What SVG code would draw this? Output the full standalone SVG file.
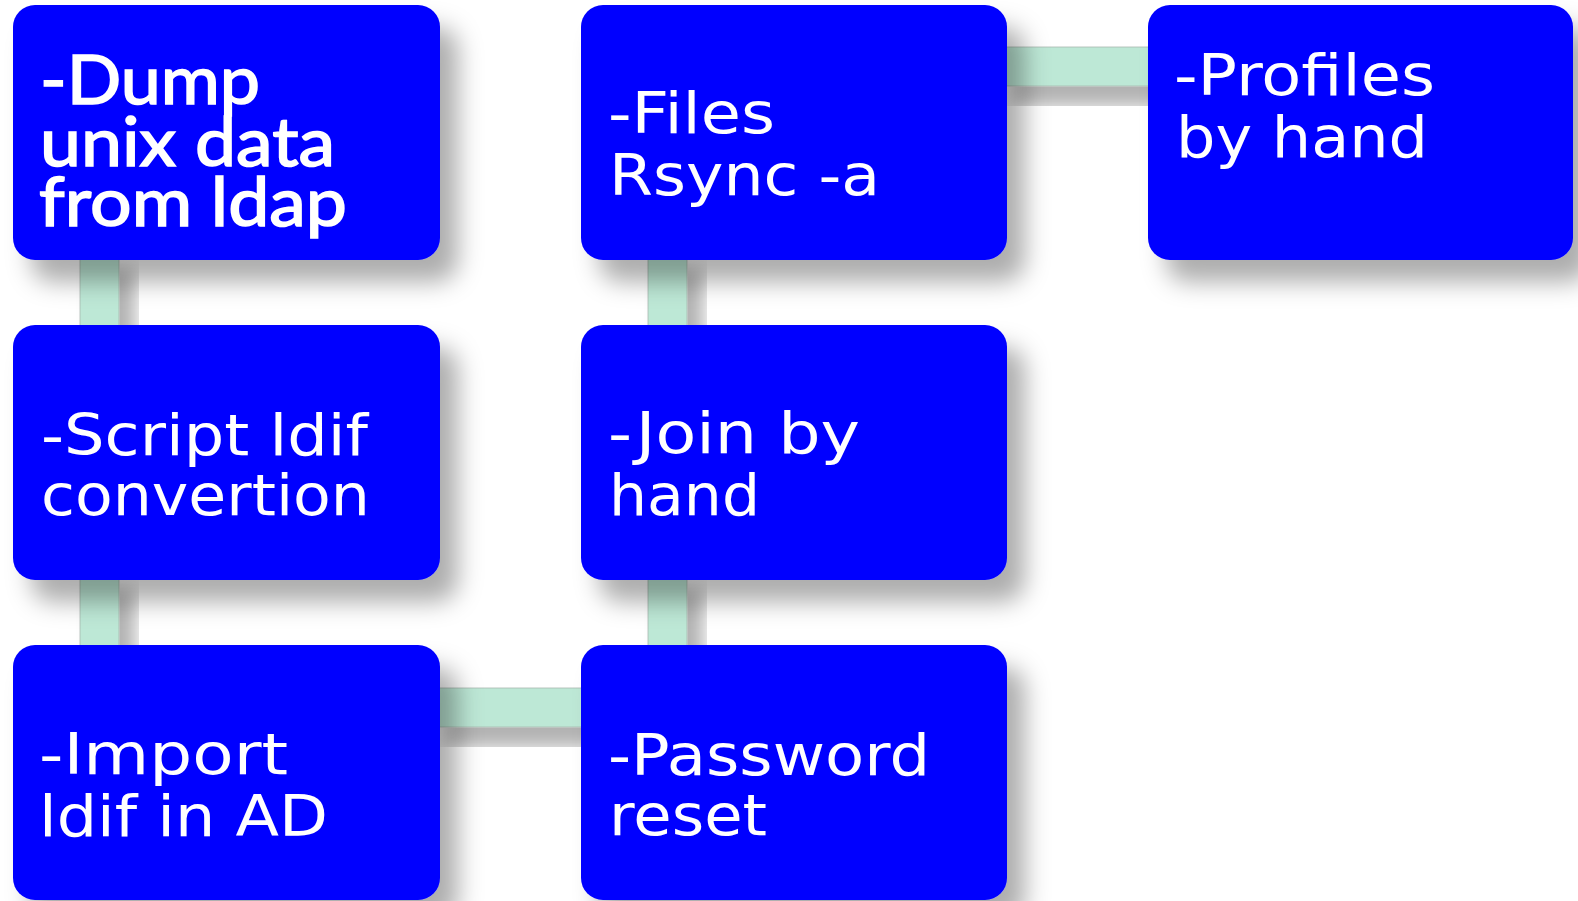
<svg xmlns="http://www.w3.org/2000/svg" width="1578" height="901" viewBox="0 0 1578 901">
<style>
.box{fill:#0000ff;filter:url(#sh)}
.con{fill:#bde8d6;stroke:#a8b8b0;stroke-width:0.8;filter:url(#shc)}
.t{font-family:"DejaVu Sans",Verdana,sans-serif;font-size:57px;fill:#ffffff}
.d{font-family:Lato,"Open Sans",sans-serif;font-weight:normal;font-size:68px;fill:#ffffff;stroke:#ffffff;stroke-width:1.6}
</style>
<defs>
<filter id="sh" x="-20%" y="-20%" width="150%" height="150%">
<feDropShadow dx="18" dy="22" stdDeviation="12" flood-color="#000" flood-opacity="0.32"/>
</filter>
<filter id="shc" x="-50%" y="-50%" width="200%" height="200%">
<feDropShadow dx="16" dy="20" stdDeviation="9" flood-color="#000" flood-opacity="0.3"/>
</filter>
</defs>
<rect width="1578" height="901" fill="#ffffff"/>
<g id="connectors">
<rect class="con" x="80" y="250" width="39" height="85"/>
<rect class="con" x="80" y="570" width="39" height="85"/>
<rect class="con" x="648" y="250" width="39" height="85"/>
<rect class="con" x="648" y="570" width="39" height="85"/>
<rect class="con" x="430" y="688" width="161" height="39"/>
<rect class="con" x="997" y="47" width="161" height="39"/>
</g>
<g id="n1">
<rect class="box" x="13" y="5" width="427" height="255" rx="22"/>
<text class="d" x="40" y="104" textLength="220" lengthAdjust="spacingAndGlyphs">-Dump</text>
<text class="d" x="40" y="166" textLength="295" lengthAdjust="spacingAndGlyphs">unix data</text>
<text class="d" x="39" y="226" textLength="308" lengthAdjust="spacingAndGlyphs">from ldap</text>
</g>
<g id="n2">
<rect class="box" x="13" y="325" width="427" height="255" rx="22"/>
<text class="t" x="41" y="455" textLength="327" lengthAdjust="spacingAndGlyphs">-Script ldif</text>
<text class="t" x="41" y="515" textLength="329" lengthAdjust="spacingAndGlyphs">convertion</text>
</g>
<g id="n3">
<rect class="box" x="13" y="645" width="427" height="255" rx="22"/>
<text class="t" x="39" y="774" textLength="249" lengthAdjust="spacingAndGlyphs">-Import</text>
<text class="t" x="39" y="836" textLength="289" lengthAdjust="spacingAndGlyphs">ldif in AD</text>
</g>
<g id="n4">
<rect class="box" x="581" y="645" width="426" height="255" rx="22"/>
<text class="t" x="608" y="775" textLength="322" lengthAdjust="spacingAndGlyphs">-Password</text>
<text class="t" x="609" y="835" textLength="158" lengthAdjust="spacingAndGlyphs">reset</text>
</g>
<g id="n5">
<rect class="box" x="581" y="325" width="426" height="255" rx="22"/>
<text class="t" x="608" y="453" textLength="252" lengthAdjust="spacingAndGlyphs">-Join by</text>
<text class="t" x="609" y="515" textLength="151" lengthAdjust="spacingAndGlyphs">hand</text>
</g>
<g id="n6">
<rect class="box" x="581" y="5" width="426" height="255" rx="22"/>
<text class="t" x="608" y="133" textLength="167" lengthAdjust="spacingAndGlyphs">-Files</text>
<text class="t" x="609" y="195" textLength="271" lengthAdjust="spacingAndGlyphs">Rsync -a</text>
</g>
<g id="n7">
<rect class="box" x="1148" y="5" width="425" height="255" rx="22"/>
<text class="t" x="1174" y="95" textLength="261" lengthAdjust="spacingAndGlyphs">-Profiles</text>
<text class="t" x="1176" y="157" textLength="252" lengthAdjust="spacingAndGlyphs">by hand</text>
</g>
</svg>
